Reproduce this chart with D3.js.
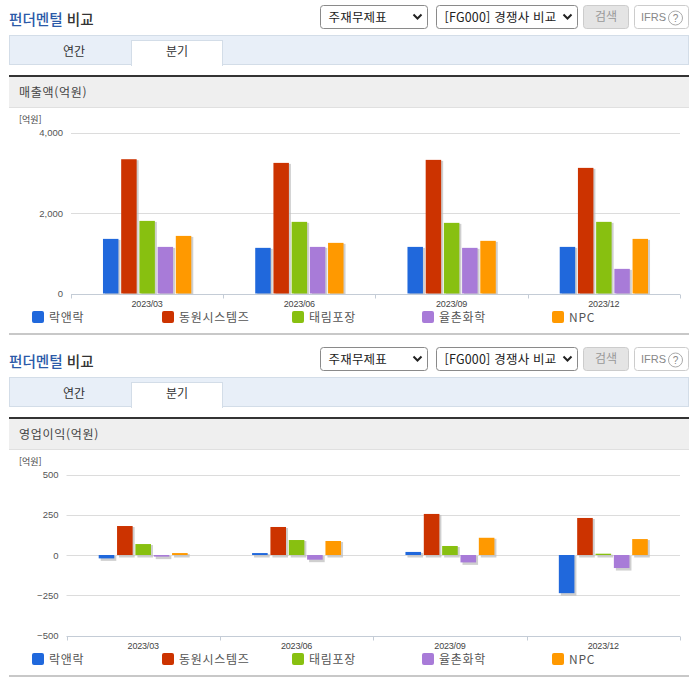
<!DOCTYPE html>
<html lang="ko">
<head>
<meta charset="utf-8">
<script src="https://cdn.jsdelivr.net/npm/d3@7"></script>
<style>
  html, body { margin: 0; padding: 0; background: #fff; }
  svg { display: block; }
  text { font-family: "Noto Sans CJK KR", "Noto Sans", sans-serif; }
  .num { font-family: "Liberation Sans", Arial, sans-serif; }
</style>
</head>
<body>
<div id="chart"></div>
<script>
// Données
const quarters = ["2023/03", "2023/06", "2023/09", "2023/12"];
const companies = ["락앤락", "동원시스템즈", "태림포장", "율촌화학", "NPC"];
const colors = ["#2068dc", "#cc3300", "#88c010", "#a87bd8", "#ff9900"];

const salesValues = [
  [1357, 3336, 1804, 1158, 1431],
  [1134, 3245, 1780, 1158, 1258],
  [1158, 3320, 1755, 1134, 1308],
  [1158, 3121, 1780, 612, 1357]
];
const salesTicks = [0, 2000, 4000];

const profitValues = [
  [-21, 180, 68, -10, 12],
  [12, 174, 93, -29, 87],
  [19, 255, 56, -46, 107],
  [-237, 230, 8, -81, 99]
];
const profitTicks = [-500, -250, 0, 250, 500];

const svg = d3.select("#chart")
  .append("svg")
  .attr("width", 696)
  .attr("height", 684);

// Bandeau du haut : titre, listes, boutons, onglets
function drawHeader(top) {
  const g = svg.append("g").attr("transform", "translate(0," + top + ")");

  const title = g.append("text").attr("x", 9).attr("y", 25).attr("font-size", 14.6).attr("font-weight", 500);
  title.append("tspan").attr("fill", "#2b5aa8").text("펀더멘털");
  title.append("tspan").attr("fill", "#333").text(" 비교");

  drawSelect(g, 320.5, 5.5, 107, "주재무제표");
  drawSelect(g, 436.5, 5.5, 141, "[FG000] 경쟁사 비교");

  g.append("rect").attr("x", 583.5).attr("y", 5.5).attr("width", 45).attr("height", 23).attr("rx", 3)
    .attr("fill", "#e4e4e4").attr("stroke", "#ccc");
  g.append("text").attr("x", 606).attr("y", 21).attr("text-anchor", "middle").attr("font-size", 12).attr("fill", "#999").text("검색");

  g.append("rect").attr("x", 634.5).attr("y", 5.5).attr("width", 54).attr("height", 23).attr("rx", 3)
    .attr("fill", "#fff").attr("stroke", "#ccc");
  g.append("text").attr("class", "num").attr("x", 641).attr("y", 21).attr("font-size", 11).attr("fill", "#888").text("IFRS");
  g.append("circle").attr("cx", 675.5).attr("cy", 18).attr("r", 7).attr("fill", "#fff").attr("stroke", "#aaa");
  g.append("text").attr("class", "num").attr("x", 675.5).attr("y", 22).attr("text-anchor", "middle").attr("font-size", 10).attr("fill", "#888").text("?");

  // Onglets
  g.append("rect").attr("x", 9.5).attr("y", 35.5).attr("width", 679).attr("height", 29)
    .attr("fill", "#e8eff8").attr("stroke", "#d3dde8");
  g.append("rect").attr("x", 131.5).attr("y", 40.5).attr("width", 91).attr("height", 25)
    .attr("fill", "#fff").attr("stroke", "#d3dde8");
  g.append("rect").attr("x", 132).attr("y", 63).attr("width", 90).attr("height", 3).attr("fill", "#fff");
  g.append("text").attr("x", 74).attr("y", 56).attr("text-anchor", "middle").attr("font-size", 12).attr("fill", "#333").text("연간");
  g.append("text").attr("x", 177).attr("y", 56).attr("text-anchor", "middle").attr("font-size", 12).attr("fill", "#333").text("분기");
}

function drawSelect(g, x, y, w, label) {
  g.append("rect").attr("x", x).attr("y", y).attr("width", w).attr("height", 23).attr("rx", 3)
    .attr("fill", "#fff").attr("stroke", "#8a8a8a");
  g.append("text").attr("x", x + 8).attr("y", y + 16).attr("font-size", 12.5).attr("letter-spacing", 0.2).attr("fill", "#222").text(label);
  const cx = x + w - 10, cy = y + 11;
  g.append("path")
    .attr("d", d3.line()([[cx - 4, cy - 2], [cx, cy + 2], [cx + 4, cy - 2]]))
    .attr("fill", "none").attr("stroke", "#222").attr("stroke-width", 2);
}

// Un graphique complet
function drawChart(opt) {
  const g = svg.append("g");

  g.append("rect").attr("x", 9).attr("y", opt.barTop).attr("width", 680).attr("height", 2).attr("fill", "#333");
  g.append("rect").attr("x", 9).attr("y", opt.barTop + 2).attr("width", 680).attr("height", 30)
    .attr("fill", "#efefef");
  g.append("rect").attr("x", 9).attr("y", opt.barTop + 32).attr("width", 680).attr("height", 1).attr("fill", "#e0e0e0");
  g.append("text").attr("x", 19).attr("y", opt.barTop + 22).attr("font-size", 12).attr("fill", "#444").attr("letter-spacing", 0.7).text(opt.title);
  g.append("text").attr("x", 19).attr("y", opt.unitY).attr("font-size", 9).attr("fill", "#444").text("[억원]");

  const x0 = d3.scaleBand().domain(quarters).range([opt.left, opt.right]).paddingInner(0.42).paddingOuter(0.21);
  const x1 = d3.scaleBand().domain(companies).range([0, x0.bandwidth()]).paddingInner(0.15).paddingOuter(0);
  const y = d3.scaleLinear().domain(opt.domain).range([opt.bottom, opt.top]);

  // Grille
  g.append("g").selectAll("line").data(opt.ticks.filter(d => d !== opt.domain[0])).join("line")
    .attr("x1", opt.left).attr("x2", opt.right)
    .attr("y1", d => Math.round(y(d)) + 0.5).attr("y2", d => Math.round(y(d)) + 0.5)
    .attr("stroke", "#dcdcdc");

  // Axe Y
  g.append("g").selectAll("text").data(opt.ticks).join("text")
    .attr("class", "num")
    .attr("x", opt.left - 8).attr("y", d => y(d) + 3.5)
    .attr("text-anchor", "end").attr("font-size", 9.5).attr("fill", "#555")
    .text(d3.format(","));

  // Barres avec ombre
  const groups = g.append("g").selectAll("g").data(opt.values).join("g")
    .attr("transform", (d, i) => "translate(" + x0(quarters[i]) + ",0)");

  groups.selectAll("rect.shadow").data(d => d).join("rect")
    .attr("class", "shadow")
    .attr("x", (d, i) => x1(companies[i]) + 2)
    .attr("y", d => Math.min(y(d), y(0)) + 1)
    .attr("width", x1.bandwidth())
    .attr("height", d => Math.abs(y(d) - y(0)) + (opt.domain[0] < 0 ? 1.5 : 0))
    .attr("fill", "#bbb").attr("opacity", 0.7);

  groups.selectAll("rect.bar").data(d => d).join("rect")
    .attr("class", "bar")
    .attr("x", (d, i) => x1(companies[i]))
    .attr("y", d => Math.min(y(d), y(0)))
    .attr("width", x1.bandwidth())
    .attr("height", d => Math.abs(y(d) - y(0)))
    .attr("fill", (d, i) => colors[i]);

  // Axe X
  const axisY = Math.round(opt.bottom) + 0.5;
  g.append("line").attr("x1", opt.left).attr("x2", opt.right).attr("y1", axisY).attr("y2", axisY).attr("stroke", "#c4ccd6");
  const edges = quarters.map(q => x0(q) - x0.step() * 0.21).concat([opt.right]);
  g.append("g").selectAll("line").data(edges).join("line")
    .attr("x1", d => Math.round(d) + 0.5).attr("x2", d => Math.round(d) + 0.5)
    .attr("y1", axisY).attr("y2", axisY + 4)
    .attr("stroke", "#c4ccd6");
  g.append("g").selectAll("text").data(quarters).join("text")
    .attr("class", "num")
    .attr("x", d => x0(d) + x0.bandwidth() / 2)
    .attr("y", axisY + 12)
    .attr("text-anchor", "middle").attr("font-size", 9).attr("letter-spacing", -0.2).attr("fill", "#444")
    .text(d => d);

  // Légende
  const legendX = d3.scaleLinear().domain([0, companies.length]).range([32, 32 + 130 * companies.length]);
  const items = g.append("g").selectAll("g").data(companies).join("g")
    .attr("transform", (d, i) => "translate(" + legendX(i) + "," + opt.legendY + ")");
  items.append("rect").attr("width", 12).attr("height", 12).attr("rx", 2).attr("fill", (d, i) => colors[i]);
  items.append("text").attr("x", 17).attr("y", 11).attr("font-size", 12).attr("letter-spacing", 0.7).attr("fill", "#555").text(d => d);

  g.append("rect").attr("x", 9).attr("y", opt.legendY + 22).attr("width", 680).attr("height", 2).attr("fill", "#c8c8c8");
}

drawHeader(0);
drawChart({
  title: "매출액(억원)", barTop: 75, unitY: 123,
  left: 71, right: 680, top: 132.5, bottom: 293.5,
  domain: [0, 4000], ticks: salesTicks, values: salesValues,
  legendY: 311
});

drawHeader(342);
drawChart({
  title: "영업이익(억원)", barTop: 417, unitY: 465,
  left: 66.5, right: 680, top: 474.5, bottom: 635.5,
  domain: [-500, 500], ticks: profitTicks, values: profitValues,
  legendY: 653
});
</script>
</body>
</html>
